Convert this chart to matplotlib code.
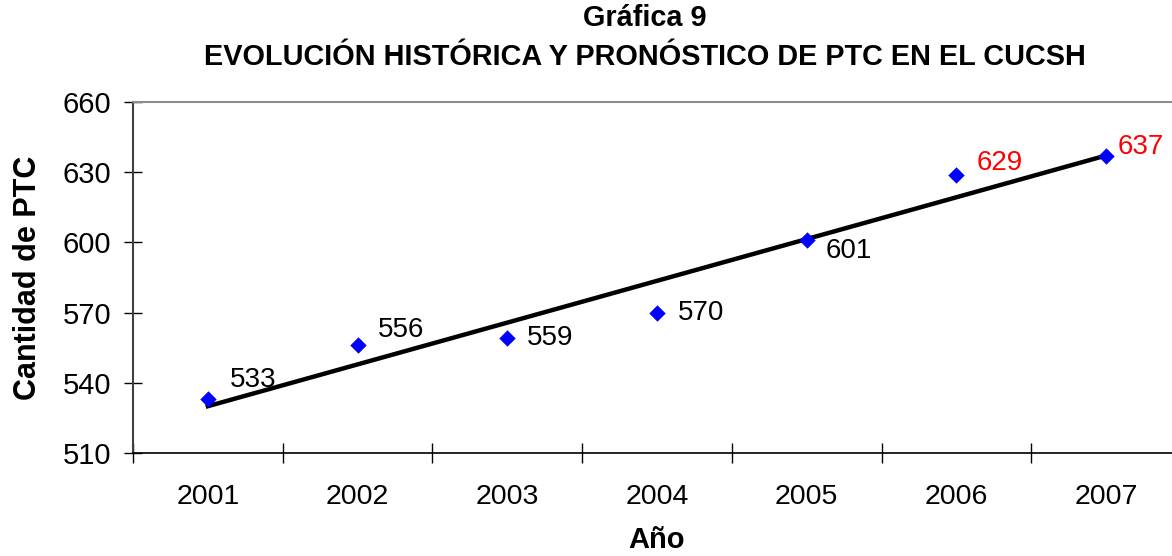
import numpy as np
import matplotlib
matplotlib.use("Agg")
import matplotlib.pyplot as plt

plt.rcParams['font.family'] = ['Liberation Sans', 'DejaVu Sans']

# data
years = ['2001', '2002', '2003', '2004', '2005', '2006', '2007']
ptc = [533, 556, 559, 570, 601, 629, 637]
label_colors = ['black', 'black', 'black', 'black', 'black', 'red', 'red']
# label offsets in pixels (dx, dy)
label_offsets = [(22, 19), (20, 15), (20, 0), (21, 0), (19, -11), (20, 12), (11, 9)]

x = np.arange(1, len(years) + 1)

fig = plt.figure(figsize=(11.72, 5.56), dpi=100)
ax = fig.add_axes([133 / 1172, 1 - 453 / 556, 1048 / 1172, 351 / 556])

# linear trend
coef = np.polyfit(x, ptc, 1)
ax.plot([x[0], x[-1]], np.polyval(coef, [x[0], x[-1]]), color='black', lw=3.2, zorder=2)

ax.scatter(x, ptc, marker='D', s=70, color='#0000FF', zorder=3, linewidths=0)

for xi, yi, c, (dx, dy) in zip(x, ptc, label_colors, label_offsets):
    ax.annotate(str(yi), (xi, yi), xytext=(dx, dy), textcoords='offset pixels',
                ha='left', va='center', fontsize=20, color=c)

ax.set_xlim(0.5, 7.5)
ax.set_ylim(510, 660)
ax.set_yticks(np.arange(510, 661, 30))
ax.set_xticks(x)
ax.set_xticklabels(years)
ax.set_xticks(np.arange(0.5, 7.6, 1), minor=True)
ax.tick_params(axis='x', which='major', length=0, pad=22, labelsize=20.5)
ax.tick_params(axis='x', which='minor', direction='inout', length=14, width=1)
ax.tick_params(axis='y', direction='inout', length=13.5, width=1, pad=9, labelsize=21)

ax.spines['top'].set_color('#8c8c8c')
ax.spines['top'].set_linewidth(1.5)
ax.spines['right'].set_visible(False)
ax.spines['left'].set_color('#404040')
ax.spines['left'].set_linewidth(1.5)
ax.spines['bottom'].set_linewidth(1.2)

ax.set_ylabel('Cantidad de PTC', fontsize=22, fontweight='bold', labelpad=14)
ax.set_xlabel('Año', fontsize=21, fontweight='bold', labelpad=12)

fig.text(645 / 1172, 1 - 18 / 556, 'Gráfica 9', ha='center', va='center',
         fontsize=20.8, fontweight='bold')
fig.text(645 / 1172, 1 - 57 / 556, 'EVOLUCIÓN HISTÓRICA Y PRONÓSTICO DE PTC EN EL CUCSH',
         ha='center', va='center', fontsize=20.8, fontweight='bold')

fig.savefig('out.png', dpi=100)
